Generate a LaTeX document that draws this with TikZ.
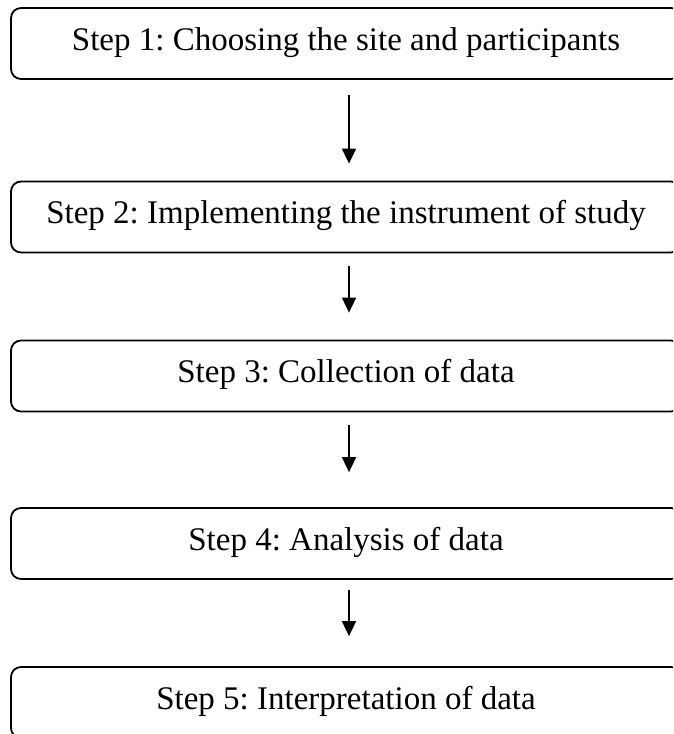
\documentclass[tikz,border=0pt]{standalone}
\usepackage{fontspec}
\setmainfont{Liberation Serif}
\usetikzlibrary{arrows.meta}
\frenchspacing

\begin{document}
\begin{tikzpicture}[x=1pt,y=1pt,>=Triangle,font=\fontsize{33}{38}\selectfont]
\tikzset{stepbox/.style={draw=black,line width=1.8pt,rounded corners=10pt,fill=white,minimum width=670pt,minimum height=71pt,inner sep=0pt,text height=23pt,text depth=10pt},
  arr/.style={-{Triangle[length=15pt,width=14pt]},line width=1.8pt,draw=black}}
\clip (0,0) rectangle (673,-734);
\node[stepbox] (s1) at (346,-43.5) {Step 1: Choosing the site and participants};
\node[stepbox] (s2) at (346,-217) {Step 2: Implementing the instrument of study};
\node[stepbox] (s3) at (346,-376) {Step 3: Collection of data};
\node[stepbox] (s4) at (346,-543.5) {Step 4: Analysis of data};
\node[stepbox] (s5) at (346,-702.5) {Step 5: Interpretation of data};
\draw[arr,shorten <=15pt,shorten >=17pt] ([xshift=3pt]s1.south)--([xshift=3pt]s2.north);
\draw[arr,shorten <=13pt,shorten >=27pt] ([xshift=3pt]s2.south)--([xshift=3pt]s3.north);
\draw[arr,shorten <=13pt,shorten >=35pt] ([xshift=3pt]s3.south)--([xshift=3pt]s4.north);
\draw[arr,shorten <=10pt,shorten >=30pt] ([xshift=3pt]s4.south)--([xshift=3pt]s5.north);
\end{tikzpicture}
\end{document}
